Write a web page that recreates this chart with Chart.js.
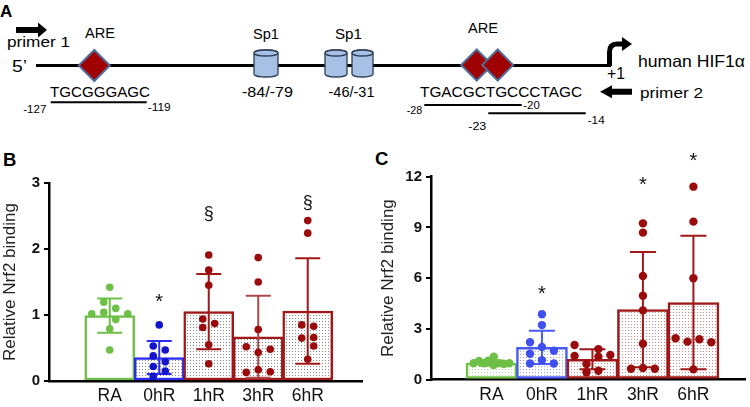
<!DOCTYPE html>
<html><head><meta charset="utf-8">
<script src="https://cdn.jsdelivr.net/npm/chart.js@4.4.0/dist/chart.umd.min.js"></script>
<style>
html,body{margin:0;padding:0;background:#fff;width:750px;height:407px;overflow:hidden;}
#art{position:absolute;left:0;top:0;}
#cb{position:absolute;left:0;top:140px;}
#cc{position:absolute;left:372px;top:140px;}
</style></head><body>
<svg id="art" width="750" height="407" font-family="Liberation Sans, Arial, sans-serif" fill="#000">
  <text x="0" y="17" font-size="17" font-weight="bold">A</text>
  <polygon points="16,27 38,27 38,22.5 47,30 38,37.5 38,33 16,33" fill="#000"/>
  <text x="7" y="47" font-size="15" textLength="63" lengthAdjust="spacingAndGlyphs">primer 1</text>
  <text x="85" y="38.3" font-size="14" textLength="30" lengthAdjust="spacingAndGlyphs">ARE</text>
  <text x="468" y="33.3" font-size="14" textLength="30" lengthAdjust="spacingAndGlyphs">ARE</text>
  <text x="12" y="71.5" font-size="16" textLength="15" lengthAdjust="spacingAndGlyphs">5’</text>
  <line x1="36" y1="65.5" x2="611" y2="65.5" stroke="#000" stroke-width="3.2"/>
  <g fill="#a7c1e6" stroke="#2d3d55" stroke-width="1.3">
    <path d="M254,53 v21 a12,3 0 0 0 24,0 v-21 a12,3 0 0 0 -24,0 z"/>
    <ellipse cx="266" cy="53" rx="12" ry="3"/>
    <path d="M325,53 v21 a11,3 0 0 0 22,0 v-21 a11,3 0 0 0 -22,0 z"/>
    <ellipse cx="336" cy="53" rx="11" ry="3"/>
    <path d="M352,53 v21 a10.5,3 0 0 0 21,0 v-21 a10.5,3 0 0 0 -21,0 z"/>
    <ellipse cx="362.5" cy="53" rx="10.5" ry="3"/>
  </g>
  <g fill="#a00000" stroke="#4f6d9a" stroke-width="2">
    <polygon points="94.3,50 109.8,65.5 94.3,81 78.8,65.5"/>
    <polygon points="476.7,49.5 492.2,65 476.7,80.5 461.2,65"/>
    <polygon points="497.7,49.5 513.2,65 497.7,80.5 482.2,65"/>
  </g>
  <text x="253" y="38.9" font-size="14" textLength="26" lengthAdjust="spacingAndGlyphs">Sp1</text>
  <text x="335" y="38.9" font-size="14" textLength="27" lengthAdjust="spacingAndGlyphs">Sp1</text>
  <text x="242" y="96.7" font-size="15" textLength="51" lengthAdjust="spacingAndGlyphs">-84/-79</text>
  <text x="328.5" y="96.7" font-size="15" textLength="46" lengthAdjust="spacingAndGlyphs">-46/-31</text>
  <text x="50" y="96.7" font-size="15.5" textLength="100" lengthAdjust="spacingAndGlyphs">TGCGGGAGC</text>
  <line x1="50.7" y1="102.3" x2="146.7" y2="102.3" stroke="#000" stroke-width="2"/>
  <text x="23.3" y="113.3" font-size="10.5" textLength="23" lengthAdjust="spacingAndGlyphs">-127</text>
  <text x="147.7" y="111" font-size="10.5" textLength="23" lengthAdjust="spacingAndGlyphs">-119</text>
  <path d="M609.5,66 V52 Q609.5,44 617,44 H624" fill="none" stroke="#000" stroke-width="5"/>
  <polygon points="622,37 632,44 622,51" fill="#000"/>
  <text x="607" y="79" font-size="16" textLength="18" lengthAdjust="spacingAndGlyphs">+1</text>
  <text x="638" y="66.5" font-size="16.5" textLength="107" lengthAdjust="spacingAndGlyphs">human HIF1α</text>
  <text x="420" y="96.7" font-size="15.5" textLength="162" lengthAdjust="spacingAndGlyphs">TGACGCTGCCCTAGC</text>
  <polygon points="600,91.7 612,85.2 612,88.7 632,88.7 632,94.7 612,94.7 612,98.2" fill="#000"/>
  <text x="640" y="97.6" font-size="15" textLength="63" lengthAdjust="spacingAndGlyphs">primer 2</text>
  <line x1="424.3" y1="105" x2="521.7" y2="105" stroke="#000" stroke-width="2"/>
  <line x1="488.3" y1="113.3" x2="585.7" y2="113.3" stroke="#000" stroke-width="2"/>
  <text x="406.7" y="113.5" font-size="10.5" textLength="15.5" lengthAdjust="spacingAndGlyphs">-28</text>
  <text x="523.3" y="109" font-size="10.5" textLength="16.5" lengthAdjust="spacingAndGlyphs">-20</text>
  <text x="468.3" y="130" font-size="10.5" textLength="18" lengthAdjust="spacingAndGlyphs">-23</text>
  <text x="587.7" y="124" font-size="10.5" textLength="17" lengthAdjust="spacingAndGlyphs">-14</text>
  <text x="3" y="166" font-size="18.5" font-weight="bold">B</text>
  <text x="375" y="165" font-size="18.5" font-weight="bold">C</text>
</svg>
<canvas id="cb" width="372" height="267"></canvas>
<canvas id="cc" width="378" height="267"></canvas>
<script>
// ---------- data ----------
const categories = ['RA', '0hR', '1hR', '3hR', '6hR'];
const ticksB = [0, 1, 2, 3];
const ticksC = [0, 3, 6, 9, 12];
const axisTitle = 'Relative Nrf2 binding';

// Panel B
const meanB = [0.99, 0.355, 1.05, 0.67, 1.06];
const sdB   = [0.26, 0.25, 0.57, 0.62, 0.80];
const ptsB_RA  = [1.42, 1.195, 1.10, 1.04, 1.02, 1.02, 0.93, 0.79, 0.47];
const ptsB_0hR = [0.85, 0.53, 0.47, 0.38, 0.29, 0.22, 0.15, 0.07];
const ptsB_1hR = [1.91, 1.68, 1.45, 0.94, 0.87, 0.81, 0.55, 0.26];
const ptsB_3hR = [1.87, 1.50, 0.78, 0.52, 0.48, 0.43, 0.13, 0.17, 0.14];
const ptsB_6hR = [2.43, 2.24, 0.85, 0.83, 0.65, 0.66, 0.53, 0.33];
const marksB = ['', '*', '§', '', '§'];
const markLevelB = [null, 1.28, 2.53, null, 2.70];

// Panel C
const meanC = [0.97, 1.90, 1.20, 4.13, 4.55];
const sdC   = [0.15, 0.98, 0.59, 3.41, 3.95];
const ptsC_RA  = [0.96, 1.10, 0.96, 1.11, 1.35, 0.86, 0.96, 0.92, 0.96];
const ptsC_0hR = [3.86, 3.22, 2.20, 1.92, 1.70, 1.52, 1.14, 0.95, 0.95];
const ptsC_1hR = [2.04, 1.39, 1.80, 1.35, 1.45, 0.92, 0.43, 0.52];
const ptsC_3hR = [9.24, 8.69, 6.12, 4.96, 4.09, 2.12, 0.64, 0.68, 0.64];
const ptsC_6hR = [11.41, 9.34, 5.99, 2.44, 2.24, 2.38, 2.20, 0.60];
const marksC = ['', '*', '', '*', '*'];
const markLevelC = [null, 5.41, null, 11.86, 13.28];

// ---------- layout (horizontal scatter slots, in point widths) ----------
const slotsB = [
  [0, -0.5, 0.5, -0.5, -1.5, 1.5, 0.5, 0, 0],
  [0, -0.5, 0.5, -0.5, 0.5, -0.5, 0.5, -0.5],
  [0, 0, 0, -0.5, 0.5, -0.5, 0, 0],
  [0, 0, 0, -1, 1, 0, -1, 0, 1],
  [0, 0, -0.5, 0.5, -0.5, 0.5, 0.5, 0]
];
const slotsC = [
  [-1.5, -1.05, -0.6, -0.28, 0.2, 0.17, 0.6, 1.05, 1.5],
  [0, 0, -1, 0, 1, -1, 0, -1, 1],
  [-1.5, -1.5, 0.5, 0.5, 1.5, -0.5, -0.5, 0.5],
  [0, 0, 0, 0, 0, 0, -1, 0, 1],
  [0, 0, 0, -1.5, -0.5, 0.5, 1.5, 0]
];

const FONT = "'Liberation Sans', Arial, sans-serif";
Chart.defaults.font.family = FONT;

function dotPattern(ctx, bg, dot) {
  const c = document.createElement('canvas');
  c.width = 3; c.height = 3;
  const g = c.getContext('2d');
  g.fillStyle = bg; g.fillRect(0, 0, 3, 3);
  g.fillStyle = dot; g.fillRect(1, 1, 1, 1);
  return ctx.createPattern(c, 'repeat');
}

function overlayPlugin(mean, sd, errColors, capW, marks, levels) {
  return {
    id: 'overlay',
    afterDatasetDraw(chart, args) {
      if (args.index !== 0) return;
      const ctx = chart.ctx, xs = chart.scales.x, ys = chart.scales.y;
      ctx.save();
      ctx.lineWidth = 2;
      mean.forEach((m, i) => {
        const px = xs.getPixelForValue(i);
        const top = ys.getPixelForValue(m + sd[i]);
        const bot = ys.getPixelForValue(Math.max(0, m - sd[i]));
        ctx.strokeStyle = errColors[i];
        ctx.beginPath();
        ctx.moveTo(px, top); ctx.lineTo(px, bot);
        ctx.moveTo(px - capW / 2, top); ctx.lineTo(px + capW / 2, top);
        ctx.moveTo(px - capW / 2, bot); ctx.lineTo(px + capW / 2, bot);
        ctx.stroke();
      });
      ctx.restore();
    },
    afterDraw(chart) {
      const ctx = chart.ctx, xs = chart.scales.x, ys = chart.scales.y;
      ctx.save();
      ctx.fillStyle = '#111';
      ctx.textAlign = 'center';
      ctx.textBaseline = 'alphabetic';
      marks.forEach((t, i) => {
        if (!t) return;
        const size = t === '*' ? 20 : 18;
        const lift = t === '*' ? 0.58 : 0.30;
        ctx.font = size + 'px ' + FONT;
        ctx.fillText(t, xs.getPixelForValue(i), ys.getPixelForValue(levels[i]) + lift * size);
      });
      ctx.restore();
    }
  };
}

function makeChart(id, o) {
  const canvas = document.getElementById(id);
  const ctx = canvas.getContext('2d');
  const fills = o.fill.map(f => f ? dotPattern(ctx, f[0], f[1]) : '#ffffff');
  const scatter = o.points.map((vals, i) => ({
    type: 'scatter',
    order: 1,
    data: vals.map((v, k) => ({ x: i + o.slots[i][k] * o.slotUnit, y: v })),
    backgroundColor: o.pointColors[i],
    borderWidth: 0,
    pointRadius: o.radius,
    pointHoverRadius: o.radius
  }));
  return new Chart(ctx, {
    type: 'bar',
    data: {
      datasets: [{
        type: 'bar',
        order: 2,
        data: o.mean.map((m, i) => ({ x: i, y: m })),
        backgroundColor: fills,
        borderColor: o.barColors,
        borderWidth: 2.5,
        borderSkipped: false,
        barThickness: o.barW
      }].concat(scatter)
    },
    options: {
      responsive: false,
      animation: false,
      events: [],
      layout: { padding: o.padding },
      plugins: { legend: { display: false }, tooltip: { enabled: false } },
      scales: {
        x: {
          type: 'linear',
          min: o.xMin, max: o.xMax,
          afterBuildTicks: s => { s.ticks = categories.map((_, i) => ({ value: i })); },
          afterFit: s => { s.height = o.xAxisH; },
          ticks: {
            callback: v => categories[v],
            font: { size: 17.5 }, color: '#111', padding: 5,
            autoSkip: false, maxRotation: 0
          },
          grid: { display: false, drawTicks: false },
          border: { display: true, color: '#000', width: 2.5 }
        },
        y: {
          min: 0, max: o.yMax,
          afterBuildTicks: s => { s.ticks = o.yTicks.map(v => ({ value: v })); },
          afterFit: s => { s.width = o.yAxisW; },
          ticks: { font: { size: 15, weight: 'bold' }, color: '#111', padding: 4 },
          grid: { drawOnChartArea: false, drawTicks: true, tickLength: 5, lineWidth: 2, color: '#000' },
          border: { color: '#000', width: 2.5 },
          title: { display: true, text: axisTitle, font: { size: 17 }, color: '#222', padding: { top: o.titlePad, bottom: 0 } }
        }
      }
    },
    plugins: [overlayPlugin(o.mean, o.sd, o.errColors, o.capW, o.marks, o.levels)]
  });
}

const GREEN = '#6dbf45', RED = '#9b0b0b', REDB = '#a01818';

makeChart('cb', {
  mean: meanB, sd: sdB,
  points: [ptsB_RA, ptsB_0hR, ptsB_1hR, ptsB_3hR, ptsB_6hR],
  slots: slotsB, slotUnit: 15 / 61.875,
  pointColors: [GREEN, '#1414cc', RED, RED, RED],
  barColors: [GREEN, '#2b2bf2', REDB, REDB, REDB],
  errColors: [GREEN, '#2b2bf2', REDB, '#b04848', REDB],
  fill: [null, ['#ffffff', '#8a8a8a'], ['#ffffff', '#8a8a8a'], ['#ffffff', '#8a8a8a'], ['#ffffff', '#8a8a8a']],
  radius: 3.8, barW: 50, capW: 25,
  xMin: -0.595, xMax: 4.464,
  yMax: 3, yTicks: ticksB,
  padding: { left: 0, top: 43, right: 10, bottom: 0 },
  yAxisW: 49, xAxisH: 26, titlePad: 0.5,
  marks: marksB, levels: markLevelB
});

makeChart('cc', {
  mean: meanC, sd: sdC,
  points: [ptsC_RA, ptsC_0hR, ptsC_1hR, ptsC_3hR, ptsC_6hR],
  slots: slotsC, slotUnit: 15 / 63.55,
  pointColors: [GREEN, '#3f4ff0', RED, RED, RED],
  barColors: [GREEN, '#4a5af5', REDB, REDB, REDB],
  errColors: [GREEN, '#4a5af5', REDB, REDB, REDB],
  fill: [['#ffffff', '#b5e395'], ['#ffffff', '#9aa4f5'], ['#ffffff', '#cf8a8a'], ['#ffffff', '#cf8a8a'], ['#ffffff', '#cf8a8a']],
  radius: 4.2, barW: 51, capW: 26,
  xMin: -0.574, xMax: 4.414,
  yMax: 12, yTicks: ticksC,
  padding: { left: 0, top: 36.7, right: 2, bottom: 0 },
  yAxisW: 59, xAxisH: 27.5, titlePad: 6,
  marks: marksC, levels: markLevelC
});
</script>
</body></html>
